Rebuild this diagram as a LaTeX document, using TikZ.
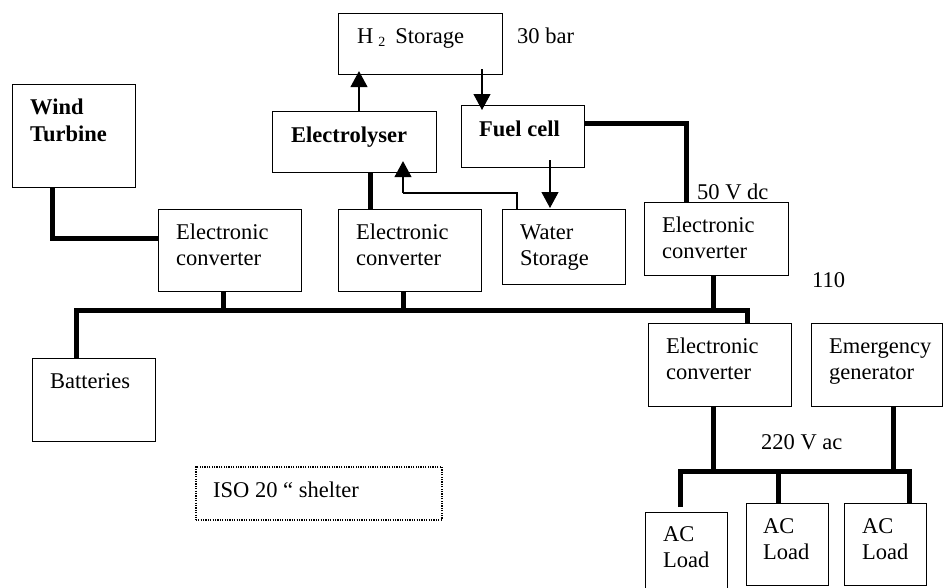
\documentclass[tikz,border=0pt]{standalone}
\usepackage{fontspec}
\setmainfont{Liberation Serif}
\usetikzlibrary{arrows.meta}
\begin{document}
\begin{tikzpicture}[x=1pt,y=-1pt,
 box/.style={draw,line width=1.1pt,rectangle,inner sep=0pt,anchor=north west},
 txt/.style={inner sep=0pt,anchor=base west,align=left,font=\fontsize{22.5}{26}\selectfont},
 btxt/.style={inner sep=0pt,anchor=base west,align=left,font=\fontsize{22.5}{27}\selectfont\bfseries},
 bus/.style={line width=5pt},
 arr/.style={line width=1.1pt,-{Triangle[width=17pt,length=16pt]}}]
\useasboundingbox (0,0) rectangle (943,587);
% boxes
\node[box,minimum width=164pt,minimum height=61pt] (h2) at (338,13) {};
\node[box,minimum width=123pt,minimum height=103pt] (wind) at (12,84) {};
\node[box,minimum width=164pt,minimum height=61pt] (elec) at (272,111) {};
\node[box,minimum width=123pt,minimum height=62pt] (fuel) at (461,105) {};
\node[box,minimum width=143pt,minimum height=82pt] (conv1) at (158,209) {};
\node[box,minimum width=143pt,minimum height=82pt] (conv2) at (338,209) {};
\node[box,minimum width=123pt,minimum height=75pt] (water) at (502,209) {};
\node[box,minimum width=144pt,minimum height=73pt] (conv3) at (644,202) {};
\node[box,minimum width=123pt,minimum height=83pt] (batt) at (32,358) {};
\node[box,minimum width=246pt,minimum height=53pt,line width=1.6pt,dash pattern=on 1.2pt off 1.2pt] (iso) at (195,466) {};
\node[box,minimum width=143pt,minimum height=83pt] (conv4) at (648,323) {};
\node[box,minimum width=131pt,minimum height=83pt] (emerg) at (811,323) {};
\node[box,minimum width=82pt,minimum height=85pt] (load1) at (645,512) {};
\node[box,minimum width=82pt,minimum height=82pt] (load2) at (746,503) {};
\node[box,minimum width=82pt,minimum height=82pt] (load3) at (844,503) {};
% texts (base = baseline of last line)
\node[txt] (th2) at (357,43) {H\hspace{5pt}\raisebox{-3pt}{\fontsize{14}{14}\selectfont 2}\hspace{10pt}Storage};
\node[txt] (tbar) at (517,43) {30 bar};
\node[btxt] (twind) at (30,141) {Wind\\Turbine};
\node[btxt] (telec) at (291,142) {Electrolyser};
\node[btxt] (tfuel) at (479,136) {Fuel cell};
\node[txt] (tc1) at (176,265) {Electronic\\converter};
\node[txt] (tc2) at (356,265) {Electronic\\converter};
\node[txt] (twater) at (520,265) {Water\\Storage};
\node[txt] (t50) at (697,199) {50 V dc};
\node[txt] (tc3) at (662,258) {Electronic\\converter};
\node[txt] (t110) at (812,287) {110};
\node[txt] (tbatt) at (50,388) {Batteries};
\node[txt] (tiso) at (213,497) {ISO 20 `` shelter};
\node[txt] (tc4) at (666,379) {Electronic\\converter};
\node[txt] (temerg) at (829,379) {Emergency\\generator};
\node[txt] (t220) at (761,449) {220 V ac};
\node[txt] (tl1) at (663,567) {AC\\Load};
\node[txt] (tl2) at (763,559) {AC\\Load};
\node[txt] (tl3) at (862,559) {AC\\Load};
% junction coordinates
\coordinate (wj) at (52,238);
\coordinate (ej) at (370,0);
\coordinate (a1) at (359,0);
\coordinate (a3) at (482,0);
\coordinate (a4) at (550,0);
\coordinate (wr1) at (517,193);
\coordinate (wr2) at (403,193);
\coordinate (fj) at (686,123);
\coordinate (b1) at (76,310);
\coordinate (b2) at (747,310);
\coordinate (c1) at (223,310);
\coordinate (c2) at (403,310);
\coordinate (c3) at (713,310);
\coordinate (d1) at (713,471);
\coordinate (d2) at (893,471);
\coordinate (l1) at (680,471);
\coordinate (l1e) at (680,507);
\coordinate (l2) at (778,471);
\coordinate (l3) at (909,471);
% thick connections
\draw[bus] (wind.south -| wj) -- (wj) -- (conv1.west |- wj);
\draw[bus] (elec.south -| ej) -- (conv2.north -| ej);
\draw[bus] (fuel.east |- fj) -- (fj) -- (conv3.north -| fj);
\draw[bus] (batt.north -| b1) -- (b1) -- (b2) -- (conv4.north -| b2);
\draw[bus] (conv1.south -| c1) -- (c1);
\draw[bus] (conv2.south -| c2) -- (c2);
\draw[bus] (conv3.south -| c3) -- (c3);
\draw[bus] (conv4.south -| d1) -- (d1);
\draw[bus] (emerg.south -| d2) -- (d2);
\draw[bus] (l1e) -- (l1) -- (l3) -- (load3.north -| l3);
\draw[bus] (l2) -- (load2.north -| l2);
% arrows
\draw[arr] (elec.north -| a1) -- ([yshift=4pt]h2.south -| a1);
\draw[arr] ([yshift=6pt]h2.south -| a3) -- ([yshift=-5pt]fuel.north -| a3);
\draw[arr] ([yshift=8pt]fuel.south -| a4) -- ([yshift=1pt]water.north -| a4);
\draw[line width=1.1pt] (water.north -| wr1) -- (wr1) -- (wr2);
\draw[arr] (wr2) -- ([yshift=12pt]elec.south -| wr2);
\end{tikzpicture}
\end{document}
